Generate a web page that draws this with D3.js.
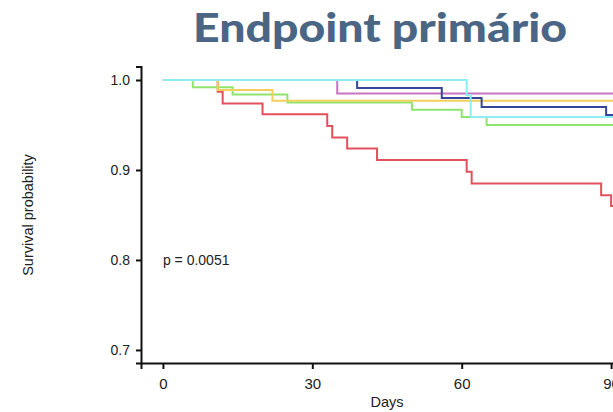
<!DOCTYPE html>
<html>
<head>
<meta charset="utf-8">
<script src="https://cdn.jsdelivr.net/npm/d3@7"></script>
<style>
  body { margin: 0; background: #fff; }
  svg { display: block; }
</style>
</head>
<body>
<svg id="km" width="613" height="412"></svg>
<script>
// step curves: days and survival probability at each step
var redDays = [0, 11, 12, 20, 33, 34, 37, 43, 61, 62, 88, 90, 95];
var redSurv = [1, 0.987, 0.974, 0.962, 0.949, 0.936, 0.924, 0.911, 0.898, 0.885, 0.872, 0.860, 0.860];

var greenDays = [0, 6, 14, 25, 50, 60, 65, 95];
var greenSurv = [1, 0.992, 0.984, 0.975, 0.967, 0.959, 0.950, 0.950];

var yellowDays = [0, 11, 22, 95];
var yellowSurv = [1, 0.989, 0.977, 0.977];

var magentaDays = [0, 35, 95];
var magentaSurv = [1, 0.985, 0.985];

var blueDays = [0, 39, 56, 64, 89, 95];
var blueSurv = [1, 0.991, 0.980, 0.970, 0.961, 0.961];

var cyanDays = [0, 61, 61.8, 95];
var cyanSurv = [1, 0.983, 0.959, 0.959];

var xTicks = [0, 30, 60, 90];
var yTicks = [0.7, 0.8, 0.9, 1.0];

var series = [
  { days: redDays, surv: redSurv, color: "#e2505c" },
  { days: greenDays, surv: greenSurv, color: "#8ee46c" },
  { days: yellowDays, surv: yellowSurv, color: "#f1cf5c" },
  { days: magentaDays, surv: magentaSurv, color: "#c874c2" },
  { days: blueDays, surv: blueSurv, color: "#34479b" },
  { days: cyanDays, surv: cyanSurv, color: "#8ceef2" }
];

var svg = d3.select("#km");

var x = d3.scaleLinear().domain([-4.4, 95]).range([141, 636]);
var y = d3.scaleLinear().domain([0.6855, 1.015]).range([363, 66.5]);

var labelFont = "'Liberation Sans', Arial, sans-serif";

// title
svg.append("text")
    .attr("x", 380)
    .attr("y", 42)
    .attr("text-anchor", "middle")
    .attr("textLength", 374)
    .attr("lengthAdjust", "spacingAndGlyphs")
    .style("font-family", "Lato, 'Open Sans', sans-serif")
    .style("font-weight", "900")
    .style("font-size", "40px")
    .style("fill", "#4b6584")
    .text("Endpoint primário");

// curves
var line = d3.line()
    .x(function (d) { return x(d[0]); })
    .y(function (d) { return y(d[1]); })
    .curve(d3.curveStepAfter);

svg.selectAll(".curve")
    .data(series)
    .enter().append("path")
    .attr("class", "curve")
    .attr("fill", "none")
    .attr("stroke", function (d) { return d.color; })
    .attr("stroke-width", 2)
    .attr("d", function (d) { return line(d3.zip(d.days, d.surv)); });

// axes
var xAxis = svg.append("g")
    .attr("transform", "translate(0," + y.range()[0] + ")")
    .call(d3.axisBottom(x).tickValues(xTicks).tickSizeOuter(0).tickSize(6).tickPadding(9));

var yAxis = svg.append("g")
    .attr("transform", "translate(" + x.range()[0] + ",0)")
    .call(d3.axisLeft(y).tickValues(yTicks).tickFormat(d3.format(".1f")).tickSizeOuter(0).tickSize(5).tickPadding(6));

[xAxis, yAxis].forEach(function (a) {
  a.select(".domain").attr("stroke", "#111").attr("stroke-width", 2);
  a.selectAll(".tick line").attr("stroke", "#111").attr("stroke-width", 2);
  a.selectAll(".tick text")
      .style("font-family", labelFont)
      .style("font-size", "14px")
      .style("fill", "#222");
});
xAxis.selectAll(".tick text").style("font-size", "15px");

// axis titles
svg.append("text")
    .attr("x", x(45))
    .attr("y", 407)
    .attr("text-anchor", "middle")
    .style("font-family", labelFont)
    .style("font-size", "14.5px")
    .style("fill", "#222")
    .text("Days");

svg.append("text")
    .attr("transform", "translate(33," + y(0.85) + ") rotate(-90)")
    .attr("text-anchor", "middle")
    .style("font-family", labelFont)
    .style("font-size", "14.5px")
    .style("fill", "#222")
    .text("Survival probability");

// p-value
svg.append("text")
    .attr("x", x(0))
    .attr("y", y(0.8))
    .attr("dy", "0.35em")
    .style("font-family", labelFont)
    .style("font-size", "14px")
    .style("fill", "#222")
    .text("p = 0.0051");
</script>
</body>
</html>
